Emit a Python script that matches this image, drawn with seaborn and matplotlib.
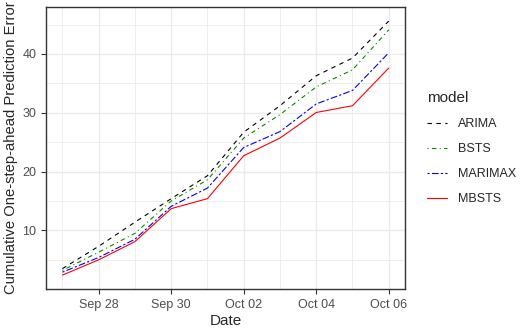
import matplotlib.pyplot as plt
import matplotlib.dates as mdates
import numpy as np
import pandas as pd
import seaborn as sns

# 数据
dates = pd.date_range("2020-09-27", "2020-10-06", freq="D")
arima = [3.5, 7.3, 11.4, 15.4, 19.3, 26.7, 31.2, 36.3, 39.3, 45.6]
bsts = [3.2, 6.3, 9.5, 15.0, 18.6, 25.7, 29.7, 34.4, 37.3, 44.1]
marimax = [2.9, 5.4, 8.5, 14.1, 17.2, 24.1, 26.8, 31.5, 33.8, 40.2]
mbsts = [2.4, 5.0, 8.1, 13.7, 15.4, 22.7, 25.7, 30.05, 31.2, 37.6]
models = ["ARIMA", "BSTS", "MARIMAX", "MBSTS"]

df = pd.DataFrame({
    "Date": np.tile(dates, 4),
    "value": arima + bsts + marimax + mbsts,
    "model": np.repeat(models, len(dates)),
})

sns.set_theme(style="white")
plt.rcParams["font.family"] = ["Liberation Sans", "DejaVu Sans"]

fig = plt.figure(figsize=(5.24, 3.35), dpi=100)
ax = fig.add_axes([0.088, 0.137, 0.685, 0.842])

palette = {"ARIMA": "black", "BSTS": "#008B00", "MARIMAX": "blue", "MBSTS": "red"}
dashes = {"ARIMA": (4, 4), "BSTS": (1, 3, 4, 3), "MARIMAX": (2, 2, 6, 2), "MBSTS": ""}
sns.lineplot(data=df, x="Date", y="value", hue="model", style="model",
             palette=palette, dashes=dashes, linewidth=0.8, ax=ax)

# 网格和边框（theme_bw 风格）
ax.set_xlim(dates[0] - pd.Timedelta(hours=10.8), dates[-1] + pd.Timedelta(hours=10.8))
ax.set_ylim(0.02, 47.98)
ax.xaxis.set_major_locator(mdates.DayLocator(bymonthday=[28, 30, 2, 4, 6]))
ax.xaxis.set_minor_locator(mdates.DayLocator(bymonthday=[27, 29, 1, 3, 5]))
ax.xaxis.set_major_formatter(mdates.DateFormatter("%b %d"))
ax.set_yticks([10, 20, 30, 40])
ax.set_yticks([5, 15, 25, 35, 45], minor=True)
ax.grid(which="major", color="#EBEBEB", linewidth=1.0)
ax.grid(which="minor", color="#EBEBEB", linewidth=0.6)
ax.set_axisbelow(True)
for s in ax.spines.values():
    s.set_color("#333333")
    s.set_linewidth(1.0)
ax.tick_params(which="major", length=3.5, width=0.8, color="#333333",
               labelsize=9, labelcolor="#4D4D4D", bottom=True, left=True)
ax.tick_params(which="minor", length=0)

ax.set_xlabel("Date", fontsize=11, labelpad=2)
ax.set_ylabel("Cumulative One-step-ahead Prediction Error", fontsize=10.6, labelpad=3)

leg = ax.legend(title="model", loc="center left", bbox_to_anchor=(1.03, 0.5),
                frameon=False, fontsize=9, title_fontsize=11,
                handlelength=1.6, handletextpad=0.9, labelspacing=1.05,
                alignment="left")

fig.savefig("out.png", dpi=100)
